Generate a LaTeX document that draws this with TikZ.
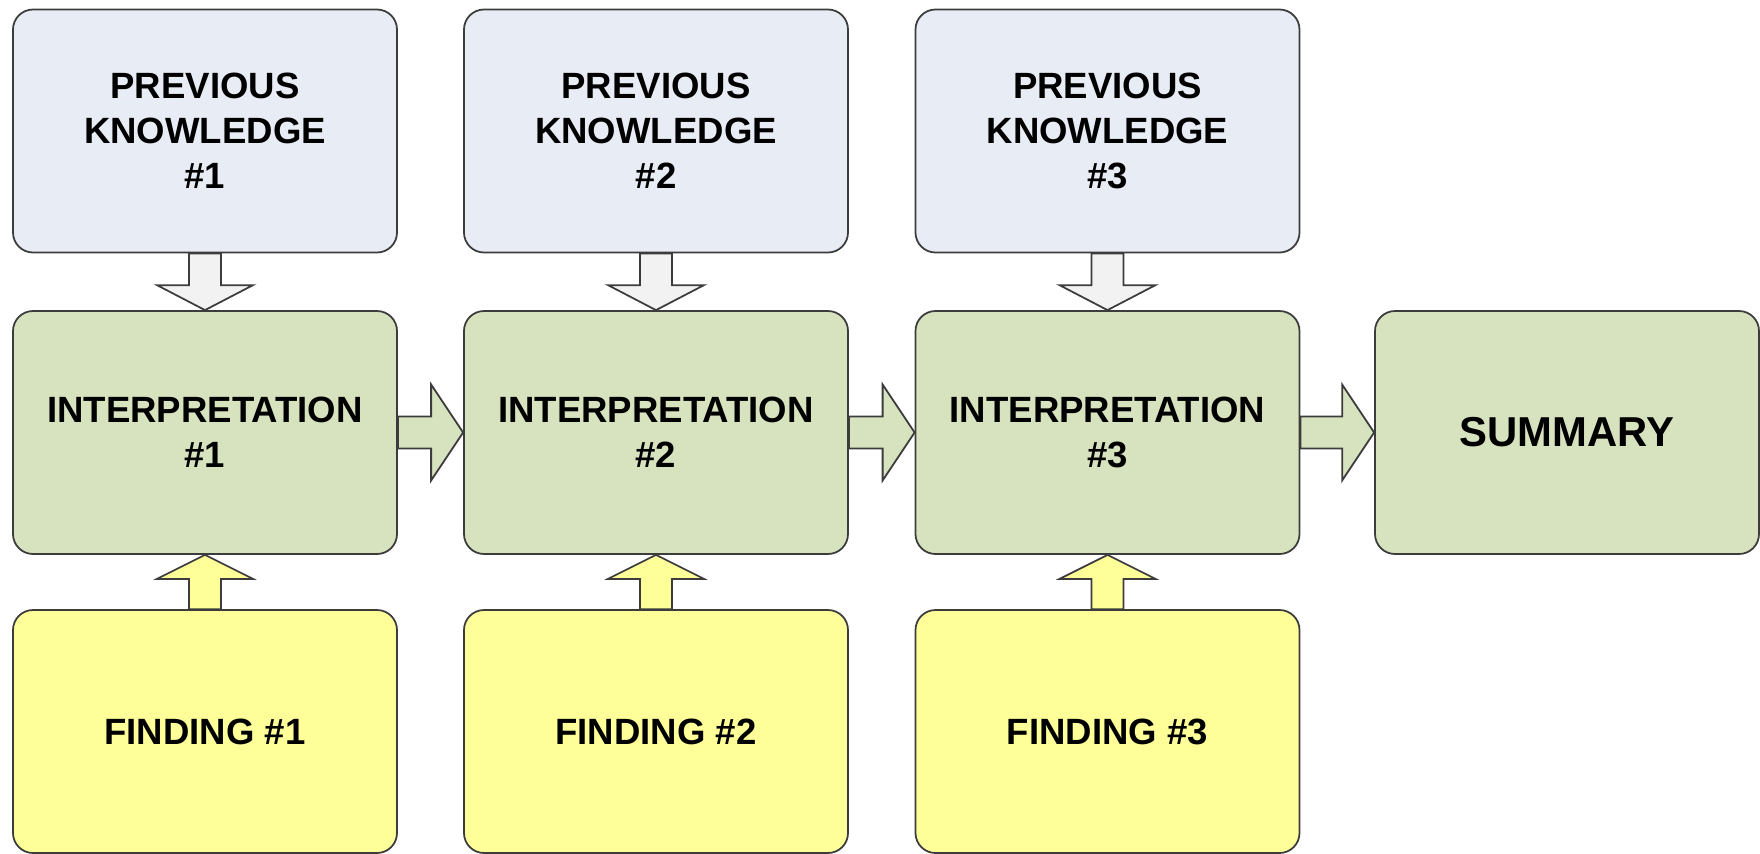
\documentclass[tikz,border=0pt]{standalone}
\usepackage{fontspec}
\setmainfont{Liberation Sans}
\usetikzlibrary{calc}
\definecolor{knowfill}{HTML}{E8ECF4}
\definecolor{interfill}{HTML}{D7E3BF}
\definecolor{findfill}{HTML}{FFFF99}
\definecolor{arrowgray}{HTML}{F2F2F2}
\definecolor{edgegray}{HTML}{3C3C3C}
\tikzset{
  box/.style={draw=edgegray, line width=0.5pt, rounded corners=0.2cm,
    minimum width=3.84cm, minimum height=2.43cm, align=center, inner sep=0pt,
    font=\fontsize{10.4}{12.8}\selectfont\bfseries},
  knowbox/.style={box, fill=knowfill},
  interbox/.style={box, fill=interfill},
  findbox/.style={box, fill=findfill},
  blockarrow/.style={draw=edgegray, line width=0.5pt, line join=miter}
}
\begin{document}
\begin{tikzpicture}
    \useasboundingbox (0,0) rectangle (17.6,8.53);
    % previous knowledge
    \node [knowbox] (pk1) at (2.05,7.22) {PREVIOUS\\KNOWLEDGE\\\#1};
    \node [knowbox] (pk2) at (6.56,7.22) {PREVIOUS\\KNOWLEDGE\\\#2};
    \node [knowbox] (pk3) at (11.075,7.22) {PREVIOUS\\KNOWLEDGE\\\#3};
    % interpretations
    \node [interbox] (in1) at (2.05,4.205) {INTERPRETATION\\\#1};
    \node [interbox] (in2) at (6.56,4.205) {INTERPRETATION\\\#2};
    \node [interbox] (in3) at (11.075,4.205) {INTERPRETATION\\\#3};
    \node [interbox, font=\fontsize{11.9}{14}\selectfont\bfseries] (sum) at (15.67,4.205) {SUMMARY};
    % findings
    \node [findbox] (fd1) at (2.05,1.215) {FINDING \#1};
    \node [findbox] (fd2) at (6.56,1.215) {FINDING \#2};
    \node [findbox] (fd3) at (11.075,1.215) {FINDING \#3};
    % down arrows
    \draw [blockarrow, fill=arrowgray] ($(pk1.south)+(-0.16,0)$) -- ($(pk1.south)+(0.16,0)$) -- ($(in1.north)+(0.16,0.25)$) -- ($(in1.north)+(0.48,0.25)$) -- (in1.north) -- ($(in1.north)+(-0.48,0.25)$) -- ($(in1.north)+(-0.16,0.25)$) -- cycle;
    \draw [blockarrow, fill=arrowgray] ($(pk2.south)+(-0.16,0)$) -- ($(pk2.south)+(0.16,0)$) -- ($(in2.north)+(0.16,0.25)$) -- ($(in2.north)+(0.48,0.25)$) -- (in2.north) -- ($(in2.north)+(-0.48,0.25)$) -- ($(in2.north)+(-0.16,0.25)$) -- cycle;
    \draw [blockarrow, fill=arrowgray] ($(pk3.south)+(-0.16,0)$) -- ($(pk3.south)+(0.16,0)$) -- ($(in3.north)+(0.16,0.25)$) -- ($(in3.north)+(0.48,0.25)$) -- (in3.north) -- ($(in3.north)+(-0.48,0.25)$) -- ($(in3.north)+(-0.16,0.25)$) -- cycle;
    % right arrows
    \draw [blockarrow, fill=interfill] ($(in1.east)+(0,0.16)$) -- ($(in2.west)+(-0.32,0.16)$) -- ($(in2.west)+(-0.32,0.48)$) -- (in2.west) -- ($(in2.west)+(-0.32,-0.48)$) -- ($(in2.west)+(-0.32,-0.16)$) -- ($(in1.east)+(0,-0.16)$) -- cycle;
    \draw [blockarrow, fill=interfill] ($(in2.east)+(0,0.16)$) -- ($(in3.west)+(-0.32,0.16)$) -- ($(in3.west)+(-0.32,0.48)$) -- (in3.west) -- ($(in3.west)+(-0.32,-0.48)$) -- ($(in3.west)+(-0.32,-0.16)$) -- ($(in2.east)+(0,-0.16)$) -- cycle;
    \draw [blockarrow, fill=interfill] ($(in3.east)+(0,0.16)$) -- ($(sum.west)+(-0.32,0.16)$) -- ($(sum.west)+(-0.32,0.48)$) -- (sum.west) -- ($(sum.west)+(-0.32,-0.48)$) -- ($(sum.west)+(-0.32,-0.16)$) -- ($(in3.east)+(0,-0.16)$) -- cycle;
    % up arrows
    \draw [blockarrow, fill=findfill] ($(fd1.north)+(-0.16,0)$) -- ($(fd1.north)+(0.16,0)$) -- ($(in1.south)+(0.16,-0.24)$) -- ($(in1.south)+(0.48,-0.24)$) -- (in1.south) -- ($(in1.south)+(-0.48,-0.24)$) -- ($(in1.south)+(-0.16,-0.24)$) -- cycle;
    \draw [blockarrow, fill=findfill] ($(fd2.north)+(-0.16,0)$) -- ($(fd2.north)+(0.16,0)$) -- ($(in2.south)+(0.16,-0.24)$) -- ($(in2.south)+(0.48,-0.24)$) -- (in2.south) -- ($(in2.south)+(-0.48,-0.24)$) -- ($(in2.south)+(-0.16,-0.24)$) -- cycle;
    \draw [blockarrow, fill=findfill] ($(fd3.north)+(-0.16,0)$) -- ($(fd3.north)+(0.16,0)$) -- ($(in3.south)+(0.16,-0.24)$) -- ($(in3.south)+(0.48,-0.24)$) -- (in3.south) -- ($(in3.south)+(-0.48,-0.24)$) -- ($(in3.south)+(-0.16,-0.24)$) -- cycle;
\end{tikzpicture}
\end{document}
